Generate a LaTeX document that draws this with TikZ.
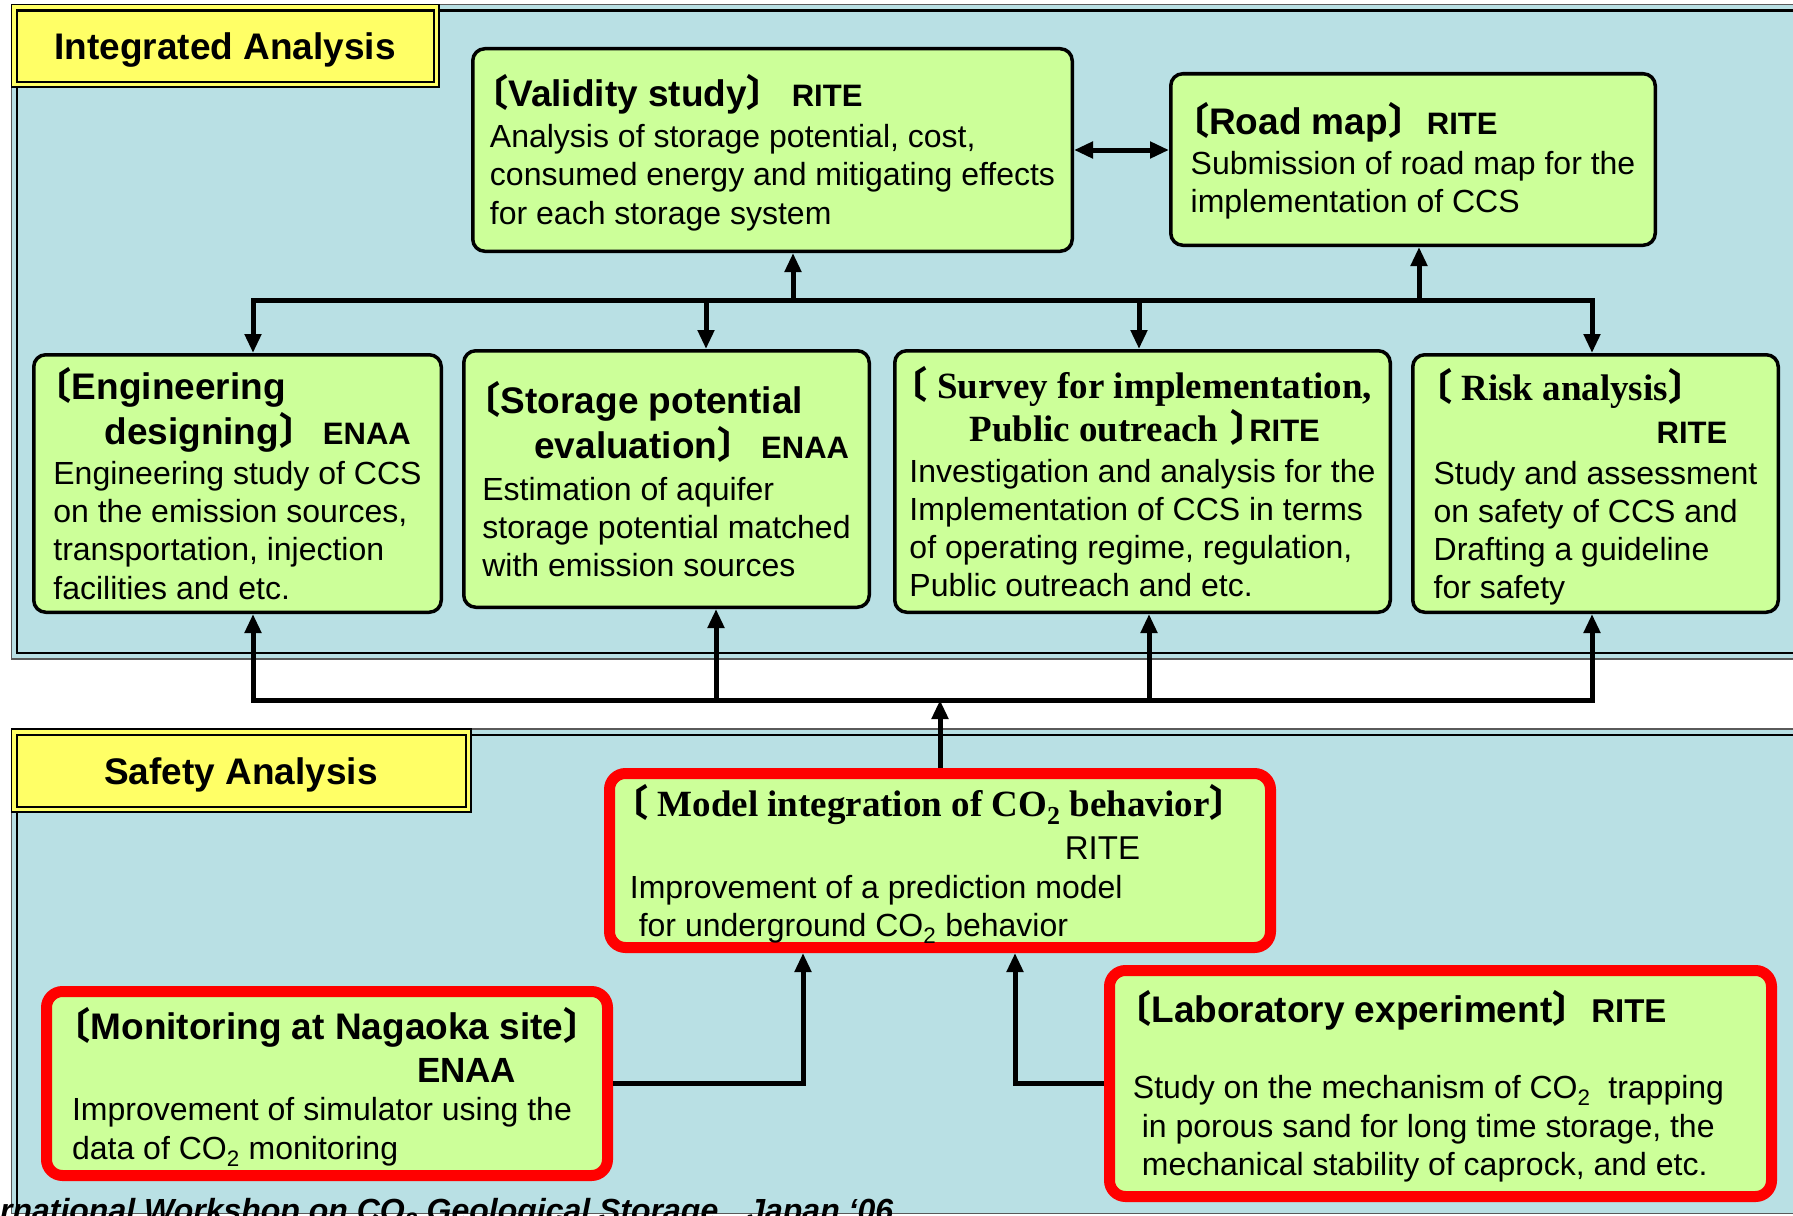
\documentclass[tikz,border=0pt]{standalone}
\usepackage{fontspec}
\setmainfont{Liberation Sans}
\newfontfamily\tnr{Liberation Serif}
\newfontfamily\cjk{Noto Sans CJK JP}
\usetikzlibrary{arrows.meta}

% title, serif title and organisation fonts
\newcommand{\ttl}{\fontsize{37}{44}\selectfont\bfseries}
\newcommand{\stl}{\fontsize{37}{44}\selectfont\tnr\bfseries}
\newcommand{\org}{\fontsize{31}{38}\selectfont\bfseries}
\newcommand{\lbk}{\makebox[0.5em][r]{\cjk 〔}}
\newcommand{\rbk}{\makebox[0.5em][l]{\cjk 〕}}
\newcommand{\tst}[1]{\rule{0pt}{#1pt}}

\begin{document}
\begin{tikzpicture}[x=1pt,y=-1pt,
  >={Triangle[length=19pt,width=16pt]},
  gbox/.style={draw, line width=3.5pt, fill=boxgreen, rounded corners=12pt, inner sep=0pt,
    align=left, font={\fontsize{32}{38.2}\selectfont\lineskiplimit=-100pt}},
  rbox/.style={gbox, draw=boxred, line width=11pt, rounded corners=16pt},
  tag/.style={inner sep=0pt, font=\fontsize{37}{44}\selectfont\bfseries},
  link/.style={->, line width=5pt},
  bus/.style={line width=5pt, line cap=rect}]
% Define colours
\definecolor{panelblue}{RGB}{185,224,228}
\definecolor{boxgreen}{RGB}{204,255,153}
\definecolor{labelyellow}{RGB}{255,255,102}
\definecolor{boxred}{RGB}{255,0,0}
\definecolor{edgegray}{RGB}{90,90,90}

% Page frame
\useasboundingbox (0,0) rectangle (1793,1215);
\clip (0,0) rectangle (1793,1215);
\fill[white] (0,0) rectangle (1793,1215);

% Draw the two panels
\draw[edgegray, line width=1.5pt, fill=panelblue] (11.5,4.5) rectangle (1810,659);
\draw[line width=2.5pt] (17,10.5) rectangle (1810,653);
\draw[edgegray, line width=1.5pt, fill=panelblue] (11.5,729) rectangle (1810,1213.5);
\draw[line width=2.5pt] (17,735) rectangle (1810,1240);

% Panel labels
\draw[line width=1.5pt, fill=labelyellow] (11.5,4.5) rectangle (439,87);
\draw[line width=2.5pt] (17,10.5) rectangle (434,82);
\node[tag] (intlab) at (225,50) {Integrated Analysis};
\draw[line width=1.5pt, fill=labelyellow] (11.5,729) rectangle (471,812);
\draw[line width=2.5pt] (17,735) rectangle (466,807);
\node[tag] (saflab) at (241,775) {Safety Analysis};

% Top row
\node[gbox, minimum width=599.5pt, minimum height=202.5pt] (valid) at (772.5,150)
  {{\ttl\tst{37.6}\lbk Validity study\rbk\hspace{0.55em}\hspace{6pt}}{\org RITE}\\[2.7pt]
   Analysis of storage potential, cost,\\
   consumed energy and mitigating effects\\
   for each storage system};
\node[gbox, minimum width=484.5pt, minimum height=171.5pt] (road) at (1413,159.5)
  {{\ttl\tst{35.2}\lbk Road map\rbk\hspace{0.55em}}{\org RITE}\\[1.7pt]
   Submission of road map for the\\
   implementation of CCS};

% Middle row
\node[gbox, minimum width=407.5pt, minimum height=257.5pt] (eng) at (237.5,483.5)
  {{\ttl\lbk Engineering}\\[6.5pt]
   {\ttl\hspace*{51pt}designing\rbk\hspace{0.55em}\hspace{5pt}}{\org ENAA}\\[1.9pt]
   Engineering study of CCS\\
   on the emission sources,\\
   transportation, injection\\
   facilities and etc.};
\node[gbox, minimum width=405.5pt, minimum height=256.5pt] (stor) at (666.5,479)
  {{\ttl\lbk Storage potential}\\[7pt]
   {\ttl\hspace*{52pt}evaluation\rbk\hspace{0.55em}\hspace{5pt}}{\org ENAA}\\[4pt]
   Estimation of aquifer\\
   storage potential matched\\
   with emission sources};
\node[gbox, minimum width=495.5pt, minimum height=261.5pt] (surv) at (1142.5,481.5)
  {{\stl\tst{32.5}\lbk\ Survey for implementation,}\\[4.8pt]
   {\stl\hspace*{60pt}Public outreach \hspace{3pt}\rbk}{\org RITE}\\[2.4pt]
   Investigation and analysis for the\\
   Implementation of CCS in terms\\
   of operating regime, regulation,\\
   Public outreach and etc.};
\node[gbox, minimum width=365.5pt, minimum height=257.5pt] (risk) at (1595.5,483.5)
  {{\stl\tst{39}\lbk\ Risk analysis\rbk}\\[4.6pt]
   \hspace*{223pt}{\org RITE}\\[2.3pt]
   Study and assessment\\
   on safety of CCS and\\
   Drafting a guideline\\
   for safety};

% Safety boxes
\node[rbox, minimum width=661pt, minimum height=174pt] (model) at (940,860.5)
  {{\stl\tst{38.7}\lbk\ Model integration of CO\textsubscript{2} behavior\rbk\rule{22pt}{0pt}}\\[4.8pt]
   \hspace*{435pt}{\fontsize{33}{38}\selectfont RITE}\\[1pt]
   Improvement of a prediction model\\
   \ for underground CO\textsubscript{2} behavior};
\node[rbox, minimum width=561pt, minimum height=184pt] (mon) at (327,1083.5)
  {{\ttl\tst{38.2}\lbk Monitoring at Nagaoka site\rbk}\\[5pt]
   \hspace*{345pt}{\fontsize{35}{38}\selectfont\bfseries ENAA}\\[0.3pt]
   Improvement of simulator using the\\
   data of CO\textsubscript{2} monitoring};
\node[rbox, minimum width=662pt, minimum height=226pt] (lab) at (1440.5,1083.5)
  {{\ttl\tst{37.2}\lbk Laboratory experiment\rbk\hspace{0.55em}}{\fontsize{33}{38}\selectfont\bfseries RITE}\\[38.3pt]
   Study on the mechanism of CO\textsubscript{2}\ \ trapping\rule{24pt}{0pt}\\
   \ in porous sand for long time storage, the\\
   \ mechanical stability of caprock, and etc.};

% Upper bus and its arrows
\coordinate (dn1) at (253,300);
\coordinate (dn2) at (706,300);
\coordinate (dn3) at (1139,300);
\coordinate (dn4) at (1592,300);
\coordinate (up1) at (793,300);
\coordinate (up2) at (1419,300);
\draw[bus] (dn1) -- (dn4);
\draw[link] (dn1) -- (dn1 |- eng.north);
\draw[link] (dn2) -- (dn2 |- stor.north);
\draw[link] (dn3) -- (dn3 |- surv.north);
\draw[link] (dn4) -- (dn4 |- risk.north);
\draw[link] (up1) -- (up1 |- valid.south);
\draw[link] (up2) -- (up2 |- road.south);
\draw[link,<->] (valid.east) -- (valid.east -| road.west);

% Lower bus and its arrows
\coordinate (lo1) at (253,700);
\coordinate (lo2) at (716,700);
\coordinate (lo3) at (1149,700);
\coordinate (lo4) at (1592,700);
\draw[bus] (lo1) -- (lo4);
\draw[link] (lo1) -- (lo1 |- eng.south);
\draw[link] (lo2) -- (lo2 |- stor.south);
\draw[link] (lo3) -- (lo3 |- surv.south);
\draw[link] (lo4) -- (lo4 |- risk.south);
\draw[link] (model.north) -- (model.north |- lo1);
\draw[link] (mon.east) -| ([xshift=-137pt]model.south);
\draw[link] (lab.west) -| ([xshift=75pt]model.south);

% Footer
\node[anchor=base west, inner sep=0pt, font=\fontsize{32}{38}\selectfont\bfseries\itshape] (foot) at (-57,1221)
  {International Workshop on CO\textsubscript{2} Geological Storage\hspace{29pt}Japan `06};
\end{tikzpicture}
\end{document}
